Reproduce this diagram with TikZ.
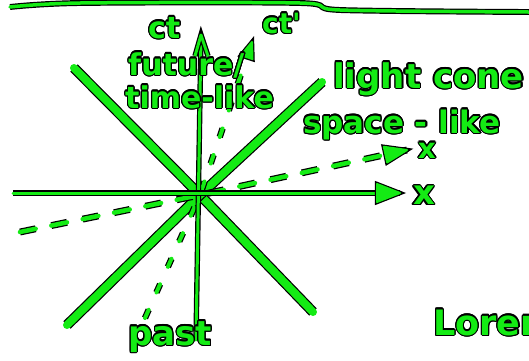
\documentclass[tikz,border=0pt]{standalone}
\usepackage{fontspec}
\usepackage{contour}
\usetikzlibrary{arrows.meta}
\newfontfamily\handfont{DejaVu Sans}
\contourlength{1.2pt}
\definecolor{hgreen}{RGB}{20,235,20}
\newcommand{\hw}[1]{\textcolor{hgreen}{\contour{black}{#1}}}
\tikzset{
  penline/.style={draw=hgreen, line width=#1, line cap=round, line join=round,
    preaction={draw=black, line width=#1+2.4pt}},
  penline/.default=3pt,
  dashpen/.style n args={2}{draw=hgreen, line width=#1, line cap=round, dash pattern=#2,
    preaction={draw=black, line width=#1+2.4pt, dash pattern=#2}},
  penhead/.style={penline=2pt, fill=hgreen},
  hand/.style={font=\handfont\bfseries\fontsize{#1}{#1}\selectfont, inner sep=0pt, anchor=base west},
  hand/.default=30pt,
}
\begin{document}
\begin{tikzpicture}[x=1pt, y=-1pt]
  \useasboundingbox (0,0) rectangle (529,360);
  \clip (0,0) rectangle (529,360);
  % top rule
  \draw[penline=3.5pt] plot[smooth] coordinates {(10,7) (80,3) (300,3) (340,10) (529,12)};
  % points
  \coordinate (o) at (200,195);
  \coordinate (ctbot) at (196,340);   \coordinate (cttop) at (201,35);
  \coordinate (xleft) at (13,193);    \coordinate (xright) at (400,193);
  \coordinate (lcAtop) at (74,68);    \coordinate (lcAbot) at (313,312);
  \coordinate (lcBtop) at (322,82);   \coordinate (lcBbot) at (67,325);
  \coordinate (ctpbot) at (145,318);  \coordinate (ctptop) at (252,42);
  \coordinate (xpleft) at (20,232);   \coordinate (xpright) at (407,150);
  % light cone
  \draw[penline=8pt] (lcAtop) -- (o) -- (lcAbot);
  \draw[penline=8pt] (lcBtop) -- (o) -- (lcBbot);
  % primed axes, dashed
  \draw[dashpen={4pt}{on 9pt off 19pt}] (ctpbot) -- (o) -- (ctptop);
  \draw[dashpen={4.5pt}{on 16pt off 16pt}] (xpleft) -- (o) -- (xpright);
  \filldraw[penhead] (xpright) -- (387.2,162.4) -- (383.8,146.8) -- cycle;
  \filldraw[penhead] (ctptop) -- (252.5,59.1) -- (241.1,55.3) -- cycle;
  % rest frame axes
  \draw[penline=3pt] (ctbot) -- (cttop);
  \draw[penline=3pt] (195,56) -- (cttop) -- (208,56);
  \draw[penline=3pt] (xleft) -- (xright);
  \filldraw[penhead] (xright) -- (377,184) -- (377,202) -- cycle;
  % labels
  \node[hand=30pt] (ct) at (148,38) {\hw{ct}};
  \node[hand=28pt] (ctp) at (262,33) {\hw{ct'}};
  \node[hand=30pt] (future) at (128,75) {\hw{future/}};
  \node[hand=30pt] (timelike) at (125,108) {\hw{time-like}};
  \node[hand=34pt] (lightcone) at (333,88) {\hw{light cone}};
  \node[hand=31pt] (spacelike) at (303,133) {\hw{space - like}};
  \node[hand=34pt, anchor=center] (xlab) at (424,196) {\hw{x}};
  \node[hand=28pt, anchor=center] (xplab) at (427,151) {\hw{x}};
  \node[hand=34pt] (past) at (128,345) {\hw{past}};
  \node[hand=35pt] (lorem) at (433,335) {\hw{Lorem}};
\end{tikzpicture}
\end{document}
